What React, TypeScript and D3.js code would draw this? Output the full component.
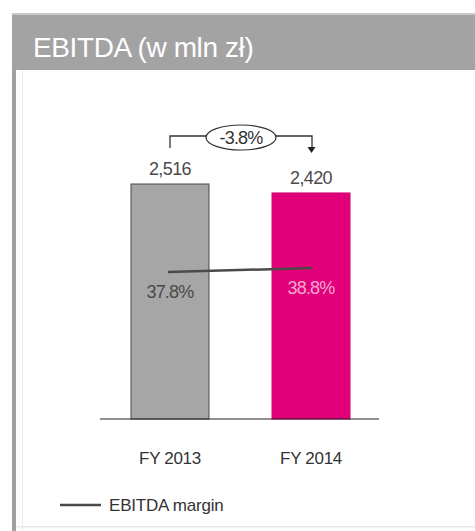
import React from "react";
import * as d3 from "d3";

const categories = ["FY 2013", "FY 2014"];
const ebitda = [2516, 2420];
const ebitdaLabels = ["2,516", "2,420"];
const margin = [37.8, 38.8];
const marginLabels = ["37.8%", "38.8%"];
const changeLabel = "-3.8%";
const title = "EBITDA (w mln zł)";
const legendLabel = "EBITDA margin";

const W = 475;
const H = 531;
const FONT = "'Liberation Sans', Arial, sans-serif";

export default function App() {
  const baseY = 419;
  const x = d3.scaleBand().domain(categories).range([131, 350]).paddingInner(0.447).paddingOuter(0);
  const y = d3.scaleLinear().domain([0, 2516]).range([baseY, 184]);
  const y2 = d3.scaleLinear().domain([0, 100]).range([baseY, baseY - 389]);
  const colors = ["#a6a6a6", "#e2007a"];
  const strokes = ["#4a4a4a", "#d0006f"];
  const valueColors = ["#4a4a4a", "#f4a6cf"];
  const cx = (c: string) => (x(c) as number) + x.bandwidth() / 2;

  const line = d3
    .line<number>()
    .x((_, i) => cx(categories[i]) + (i === 0 ? -2 : 1))
    .y((d) => y2(d));

  const x0 = cx(categories[0]);
  const x1 = cx(categories[1]);
  const bracketY = 136;
  const ellCx = 241;

  return (
    <svg width={W} height={H} style={{ display: "block", position: "absolute", left: 0, top: 0 }}>
      <rect x={0} y={0} width={W} height={H} fill="#fff" />
      {/* header */}
      <rect x={12} y={14} width={W - 12} height={56} fill="#a3a3a3" />
      <rect x={12} y={13} width={W - 12} height={2} fill="#c8c8c8" />
      <text x={33} y={57} fill="#fff" fontFamily={FONT} fontSize={28} letterSpacing={-0.4}>
        {title}
      </text>
      {/* frame */}
      <rect x={12} y={70} width={4} height={H - 70} fill="#a0a0a0" />
      <rect x={22} y={70} width={1} height={H - 70} fill="#ececec" />
      <rect x={16} y={526} width={W - 16} height={1.5} fill="#eaeaea" />

      {/* bars */}
      {categories.map((c, i) => (
        <rect
          key={c}
          x={x(c)}
          y={y(ebitda[i])}
          width={x.bandwidth()}
          height={baseY - y(ebitda[i])}
          fill={colors[i]}
          stroke={strokes[i]}
          strokeWidth={1}
        />
      ))}
      {/* baseline */}
      <line x1={100} x2={379} y1={baseY} y2={baseY} stroke="#222" strokeWidth={1.2} />

      {/* value labels */}
      {categories.map((c, i) => (
        <text
          key={c}
          x={cx(c)}
          y={y(ebitda[i]) - 9}
          textAnchor="middle"
          fill="#4a4a4a"
          fontFamily={FONT}
          fontSize={18}
          letterSpacing={-0.6}
        >
          {ebitdaLabels[i]}
        </text>
      ))}

      {/* change annotation */}
      <path
        d={`M${x0},${bracketY + 12} V${bracketY} H${ellCx - 35} M${ellCx + 35},${bracketY} H${x1 + 1} V${bracketY + 12}`}
        fill="none"
        stroke="#333"
        strokeWidth={1.3}
      />
      <path d={`M${x1 - 3.5},${bracketY + 11} L${x1 + 4.5},${bracketY + 11} L${x1 + 0.5},${bracketY + 17} Z`} fill="#222" />
      <ellipse cx={ellCx} cy={bracketY + 1.5} rx={35} ry={12.5} fill="#fff" stroke="#333" strokeWidth={1.2} />
      <text
        x={ellCx}
        y={bracketY + 8}
        textAnchor="middle"
        fill="#333"
        fontFamily={FONT}
        fontSize={18}
        letterSpacing={-0.8}
      >
        {changeLabel}
      </text>

      {/* margin line */}
      <path d={line(margin) as string} fill="none" stroke="#4a4a4a" strokeWidth={2.5} />
      {categories.map((c, i) => (
        <text
          key={c}
          x={cx(c)}
          y={y2(margin[i]) + 26}
          textAnchor="middle"
          fill={valueColors[i]}
          fontFamily={FONT}
          fontSize={18}
          letterSpacing={-0.8}
        >
          {marginLabels[i]}
        </text>
      ))}

      {/* x axis labels */}
      {categories.map((c) => (
        <text
          key={c}
          x={cx(c)}
          y={464}
          textAnchor="middle"
          fill="#333"
          fontFamily={FONT}
          fontSize={17}
          letterSpacing={-0.3}
        >
          {c}
        </text>
      ))}

      {/* legend */}
      <line x1={60} x2={101} y1={505} y2={505} stroke="#4a4a4a" strokeWidth={2.5} />
      <text x={109} y={511} fill="#333" fontFamily={FONT} fontSize={17} letterSpacing={-0.2}>
        {legendLabel}
      </text>
    </svg>
  );
}
